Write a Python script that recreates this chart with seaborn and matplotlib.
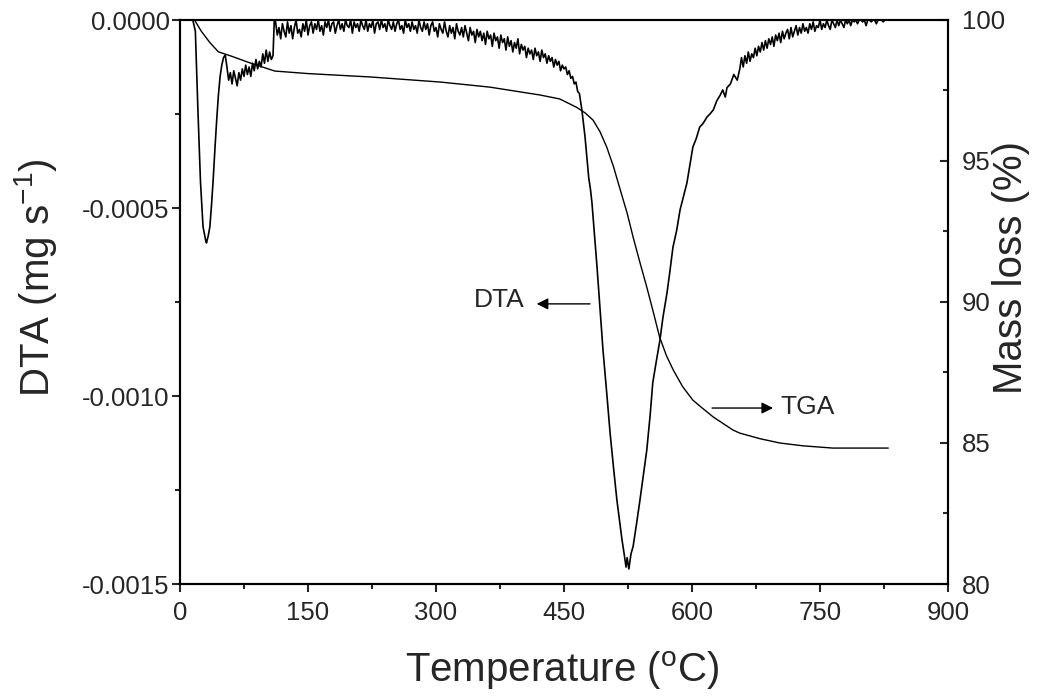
import numpy as np
import pandas as pd
import matplotlib
matplotlib.use("Agg")
import matplotlib.pyplot as plt
import seaborn as sns
from matplotlib.ticker import AutoMinorLocator

# ---------------- data ----------------
# DTA signal, values in units of 1e-4 mg/s
dta_temp_a = [15, 18, 21, 24, 27, 30, 31, 33, 35, 37, 39, 41, 43, 45, 47, 49, 51, 53]
dta_val_a = [0.0, -0.3, -2.4, -4.3, -5.5, -5.85, -5.93, -5.75, -5.5, -4.9, -4.2, -3.4,
             -2.66, -2.0, -1.5, -1.2, -1.0, -0.93]

dta_temp_b = list(range(55, 111, 2)) + [110.5]
dta_val_b = [-1.25, -1.6, -1.4, -1.7, -1.35, -1.55, -1.75, -1.4, -1.6, -1.3,
             -1.5, -1.2, -1.45, -1.25, -1.5, -1.15, -1.35, -1.05, -1.3, -1.1,
             -1.25, -0.9, -1.15, -0.8, -1.1, -0.85, -1.05, -0.95, 0.0]

dta_temp_c = list(range(112, 472, 2))
dta_val_c = [-0.05, -0.4, -0.2, -0.5, -0.1, -0.3, -0.45, -0.05, -0.35, -0.15,
             -0.5, -0.2, 0.0, -0.35, -0.25, -0.45, -0.1, -0.3, 0.0, -0.4,
             -0.15, -0.05, -0.35, -0.1, -0.25, 0.0, -0.3, -0.15, -0.4, -0.05,
             -0.2, 0.0, -0.3, -0.1, -0.05, -0.35, -0.15, 0.0, -0.25, -0.1,
             -0.3, 0.0, -0.15, -0.2, 0.0, -0.35, -0.05, -0.2, -0.1, -0.3,
             0.0, -0.15, -0.25, 0.0, -0.3, -0.1, -0.2, 0.0, -0.35, -0.1,
             -0.05, -0.25, 0.0, -0.2, -0.1, -0.3, 0.0, -0.15, -0.25, -0.05,
             -0.3, -0.1, 0.0, -0.25, -0.15, -0.35, 0.0, -0.2, -0.1, -0.3,
             -0.05, -0.25, -0.15, -0.35, 0.0, -0.2, -0.3, -0.05, -0.25, -0.1,
             -0.4, -0.15, -0.05, -0.3, -0.2, -0.45, -0.1, -0.25, -0.35, -0.05,
             -0.3, -0.45, -0.15, -0.35, -0.2, -0.5, -0.1, -0.3, -0.4, -0.2,
             -0.45, -0.15, -0.35, -0.55, -0.2, -0.4, -0.3, -0.6, -0.25, -0.45,
             -0.3, -0.55, -0.35, -0.65, -0.3, -0.5, -0.4, -0.7, -0.35, -0.55,
             -0.45, -0.75, -0.4, -0.6, -0.5, -0.8, -0.45, -0.7, -0.55, -0.85,
             -0.6, -0.75, -0.5, -0.9, -0.65, -0.8, -0.7, -1.0, -0.75, -0.9,
             -0.8, -1.05, -0.75, -0.95, -0.85, -1.1, -0.8, -1.0, -0.9, -1.15,
             -0.95, -1.1, -1.0, -1.25, -1.05, -1.2, -1.1, -1.35, -1.2, -1.3,
             -1.25, -1.45, -1.35, -1.55, -1.5, -1.7, -1.65, -1.9, -1.95, -2.25]

dta_temp_d = [471, 474.6, 477, 479, 481, 482.8, 485, 488.7, 492, 495.7, 500, 504, 508, 512,
              515, 518, 520.5, 522.7, 524, 526, 528.5, 531, 535, 539, 543, 547, 551, 554,
              558, 562.5, 566, 570.7, 574, 577.7, 582, 586, 590, 594, 598, 601, 605, 609,
              613, 617.6, 621, 625, 629, 633, 636, 639, 641, 645, 649, 653]
dta_val_d = [-2.4, -3.1, -3.7, -4.2, -4.5, -4.87, -5.5, -6.57, -7.6, -8.78, -9.9, -10.98,
             -11.9, -12.77, -13.3, -13.83, -14.2, -14.55, -14.3, -14.6, -14.2, -14.0,
             -13.4, -12.77, -12.1, -11.44, -10.5, -9.65, -9.1, -8.5, -7.9, -7.26, -6.7,
             -6.04, -5.6, -5.05, -4.7, -4.34, -3.8, -3.38, -3.15, -2.85, -2.75, -2.58,
             -2.5, -2.39, -2.15, -2.0, -1.86, -2.05, -1.8, -1.7, -1.45, -1.6]

dta_temp_e = list(range(656, 836, 2))
dta_val_e = [-1.3, -1.0, -1.25, -0.95, -1.15, -0.85, -1.1, -0.9, -1.0, -0.75,
             -0.95, -0.7, -0.85, -0.6, -0.8, -0.55, -0.75, -0.5, -0.65, -0.45,
             -0.7, -0.4, -0.55, -0.35, -0.6, -0.3, -0.5, -0.35, -0.25, -0.5,
             -0.2, -0.45, -0.3, -0.15, -0.4, -0.2, -0.35, -0.1, -0.3, -0.2,
             -0.35, -0.1, -0.25, -0.05, -0.3, -0.15, -0.2, 0.0, -0.25, -0.1,
             -0.2, 0.0, -0.15, -0.25, 0.0, -0.1, -0.2, 0.0, -0.15, 0.0,
             -0.1, -0.2, 0.0, -0.1, 0.0, -0.15, 0.0, -0.05, 0.0, -0.1,
             0.0, 0.0, -0.05, 0.0, -0.15, 0.0, 0.0, -0.05, 0.0, 0.0,
             -0.1, 0.0, 0.0, 0.0, -0.05, 0.0, 0.0, 0.0, 0.0, 0.0]

# TGA: mass remaining (%)
tga_temp = [17, 25, 35, 45, 60, 80, 100, 111, 150, 223, 305, 363, 422, 445, 465, 475,
            484, 492, 500, 508, 516, 524, 531, 539, 547, 555, 562, 570, 578, 589, 601,
            612, 625, 636, 648, 656, 680, 703, 730, 765, 830]
tga_mass = [100, 99.6, 99.2, 98.87, 98.72, 98.5, 98.3, 98.19, 98.1, 97.98, 97.8, 97.62,
            97.34, 97.2, 96.9, 96.7, 96.45, 96.05, 95.5, 94.8, 93.97, 93.15, 92.3, 91.4,
            90.53, 89.6, 88.76, 88.1, 87.59, 87.0, 86.52, 86.24, 85.92, 85.7, 85.46,
            85.35, 85.15, 85.0, 84.9, 84.82, 84.82]

x_ticks = [0, 150, 300, 450, 600, 750, 900]
dta_ticks = [-0.0015, -0.0010, -0.0005, 0.0000]
mass_ticks = [80, 85, 90, 95, 100]

# ---------------- build frames ----------------
dta_temp = dta_temp_a + dta_temp_b + dta_temp_c + dta_temp_d + dta_temp_e
dta_val = dta_val_a + dta_val_b + dta_val_c + dta_val_d + dta_val_e
dta_df = pd.DataFrame({"T": dta_temp, "DTA": np.array(dta_val) * 1e-4})
tga_df = pd.DataFrame({"T": tga_temp, "Mass": tga_mass})

# ---------------- style ----------------
sns.set_theme(style="ticks")
plt.rcParams["font.family"] = ["Liberation Sans", "DejaVu Sans"]
plt.rcParams["mathtext.fontset"] = "custom"
plt.rcParams["mathtext.rm"] = "Liberation Sans"
plt.rcParams["mathtext.it"] = "Liberation Sans:italic"
plt.rcParams["mathtext.bf"] = "Liberation Sans:bold"

fig = plt.figure(figsize=(10.41, 6.96), dpi=100)
ax = fig.add_axes([180 / 1041, 1 - 584 / 696, 768 / 1041, 564 / 696])
ax2 = ax.twinx()

sns.lineplot(data=dta_df, x="T", y="DTA", ax=ax, color="black", lw=1.2,
             estimator=None, sort=False)
sns.lineplot(data=tga_df, x="T", y="Mass", ax=ax2, color="black", lw=1.0,
             estimator=None, sort=False)

ax.set_xlim(0, 900)
ax.set_ylim(-0.0015, 0.0)
ax2.set_ylim(80, 100)

ax.set_xticks(x_ticks)
ax.set_xticklabels([str(t) for t in x_ticks])
ax.set_yticks(dta_ticks)
ax.set_yticklabels([f"{v:.4f}" for v in dta_ticks])
ax.xaxis.set_minor_locator(AutoMinorLocator(2))
ax.yaxis.set_minor_locator(AutoMinorLocator(2))
ax2.set_yticks(mass_ticks)
ax2.yaxis.set_minor_locator(AutoMinorLocator(2))

fs_tick = 18.5
ax.tick_params(axis="x", which="major", direction="out", length=6, width=1.5,
               labelsize=fs_tick, pad=6, top=False)
ax.tick_params(axis="x", which="minor", direction="out", length=3.5, width=1.5, top=False)
ax.tick_params(axis="y", which="major", direction="out", length=6, width=1.5,
               labelsize=fs_tick, pad=1.5)
ax.tick_params(axis="y", which="minor", direction="out", length=3.5, width=1.5)
ax2.tick_params(axis="y", which="major", direction="in", length=6, width=1.5,
                labelsize=fs_tick, pad=10)
ax2.tick_params(axis="y", which="minor", direction="in", length=3.5, width=1.5)

for a in (ax, ax2):
    for s in a.spines.values():
        s.set_visible(True)
        s.set_linewidth(1.5)
        s.set_color("black")

ax.set_xlabel(r"Temperature ($^{\mathregular{o}}$C)", fontsize=29)
ax.set_ylabel(r"DTA (mg s$^{\mathregular{-1}}$)", fontsize=29)
ax2.set_ylabel("Mass loss (%)", fontsize=29)
ax.xaxis.set_label_coords(0.497, -0.115)
ax.yaxis.set_label_coords(-0.158, 0.543)
ax2.yaxis.set_label_coords(1.057, 0.562)

# annotations
arrow_kw = dict(arrowstyle="-|>", color="black", lw=1.0, mutation_scale=17,
                shrinkA=0, shrinkB=0)
ax.annotate("", xy=(418, -0.000755), xytext=(480.5, -0.000755), arrowprops=arrow_kw)
ax.text(404, -0.000745, "DTA", ha="right", va="center", fontsize=19)
ax.annotate("", xy=(695, -0.001032), xytext=(623.5, -0.001032), arrowprops=arrow_kw)
ax.text(703, -0.001030, "TGA", ha="left", va="center", fontsize=19)

fig.savefig("out.png", dpi=100)
